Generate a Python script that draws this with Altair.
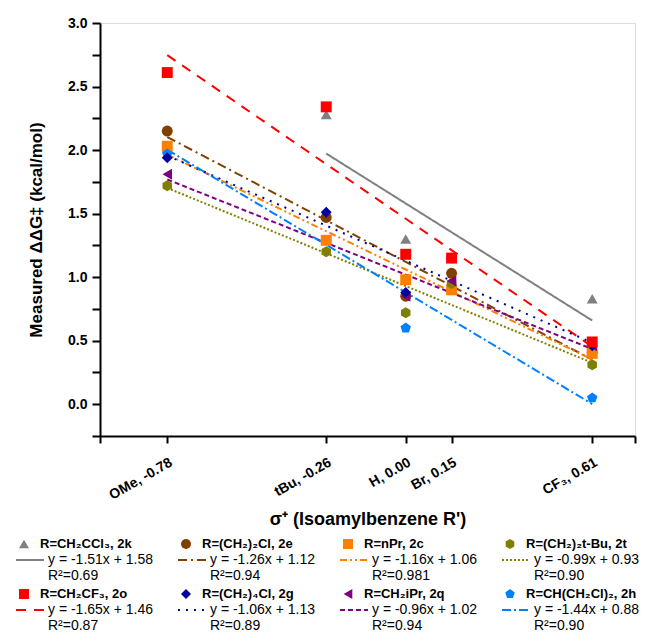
import altair as alt
import pandas as pd

# ---------------- data ----------------
sigma_values = [-0.78, -0.26, 0.00, 0.15, 0.61]
sigma_labels = ["OMe, -0.78", "tBu, -0.26", "H, 0.00", "Br, 0.15", "CF₃, 0.61"]

y_tick_values = [0.0, 0.5, 1.0, 1.5, 2.0, 2.5, 3.0]
y_tick_labels = ["0.0", "0.5", "1.0", "1.5", "2.0", "2.5", "3.0"]

series_ids = ["2k", "2e", "2c", "2t", "2o", "2g", "2q", "2h"]
series_names = ["R=CH₂CCl₃, 2k", "R=(CH₂)₂Cl, 2e", "R=nPr, 2c", "R=(CH₂)₂t-Bu, 2t",
                "R=CH₂CF₃, 2o", "R=(CH₂)₄Cl, 2g", "R=CH₂iPr, 2q", "R=CH(CH₂Cl)₂, 2h"]
slopes = [-1.51, -1.26, -1.16, -0.99, -1.65, -1.06, -0.96, -1.44]
intercepts = [1.58, 1.12, 1.06, 0.93, 1.46, 1.13, 1.02, 0.88]
r_squared = ["0.69", "0.94", "0.981", "0.90", "0.87", "0.89", "0.94", "0.90"]

# measured ddG at OMe, tBu, H, Br, CF3 (None = no point)
y_2k = [None, 2.28, 1.30, None, 0.83]
y_2e = [2.15, 1.47, 0.85, 1.03, 0.41]
y_2c = [2.03, 1.29, 0.98, 0.90, 0.40]
y_2t = [1.72, 1.20, 0.72, 0.95, 0.31]
y_2o = [2.61, 2.34, 1.18, 1.15, 0.49]
y_2g = [1.94, 1.51, 0.88, 1.15, 0.46]
y_2q = [1.81, None, 0.85, 0.97, 0.46]
y_2h = [1.97, None, 0.60, None, 0.05]

# ---------------- styles ----------------
colors = ["#808080", "#804000", "#FF8000", "#808000", "#FF0000", "#0000A0", "#800080", "#0080FF"]
hexagon = "M0,-1L0.866,-0.5L0.866,0.5L0,1L-0.866,0.5L-0.866,-0.5Z"
pentagon = "M0,-1L0.951,-0.309L0.588,0.809L-0.588,0.809L-0.951,-0.309Z"
shapes = ["triangle-up", "circle", "square", hexagon, "square", "diamond", "triangle-left", pentagon]
dashes = [[1, 0], [9, 4, 2, 4], [7, 3, 2, 3, 2, 3], [2, 2], [10, 8], [2, 6], [5, 3], [9, 3, 2, 3]]
draw_order = ["2k", "2e", "2c", "2t", "2h", "2q", "2g", "2o"]

FONT = "Liberation Sans"

measured = dict(zip(series_ids, [y_2k, y_2e, y_2c, y_2t, y_2o, y_2g, y_2q, y_2h]))
pt_rows, ln_rows = [], []
for sid, m, b in zip(series_ids, slopes, intercepts):
    xs = []
    for xv, yv in zip(sigma_values, measured[sid]):
        if yv is not None:
            pt_rows.append({"series": sid, "x": xv, "y": yv, "z": draw_order.index(sid)})
            xs.append(xv)
    for xv in (min(xs), max(xs)):
        ln_rows.append({"series": sid, "x": xv, "slope": m, "intercept": b})
points = pd.DataFrame(pt_rows)
lines = pd.DataFrame(ln_rows)

color_scale = alt.Scale(domain=series_ids, range=colors)
shape_scale = alt.Scale(domain=series_ids, range=shapes)
dash_scale = alt.Scale(domain=series_ids, range=dashes)

x_ticks = [-1.0] + sigma_values + [0.75]
x_label_expr = "".join(
    f"datum.value == {v} ? '{l}' : " for v, l in zip(sigma_values, sigma_labels)) + "''"
y_ticks = [-0.25 + 0.25 * i for i in range(14)]
y_label_expr = "".join(
    f"datum.value == {v} ? '{l}' : " for v, l in zip(y_tick_values, y_tick_labels)) + "''"

xscale = alt.Scale(domain=[-1.0, 0.75], nice=False, zero=False)
yscale = alt.Scale(domain=[-0.25, 3.0], nice=False, zero=False)

x_axis = alt.Axis(values=x_ticks, tickCount=50, labelExpr=x_label_expr, labelAngle=330,
                  labelAlign="right", labelBaseline="top", labelFont=FONT,
                  labelFontWeight="bold", labelFontSize=14,
                  labelColor="black", labelPadding=12, labelOverlap=False, labelFlush=False,
                  title="σ⁺ (Isoamylbenzene R')", titleFont=FONT, titleFontSize=18,
                  titleFontWeight="bold", titleColor="black", titlePadding=8,
                  domainColor="black", domainWidth=2, tickColor="black", tickWidth=2,
                  tickSize=7, grid=False)
y_axis = alt.Axis(values=y_ticks, tickCount=50, labelExpr=y_label_expr,
                  labelFont=FONT, labelFontWeight="bold", labelFontSize=14, labelColor="black",
                  labelPadding=5, labelOverlap=False, labelFlush=False,
                  title="Measured ΔΔG‡ (kcal/mol)", titleFont=FONT, titleFontSize=17,
                  titleFontWeight="bold", titleColor="black", titlePadding=22,
                  domainColor="black", domainWidth=2, tickColor="black", tickWidth=2,
                  tickSize=8, grid=False)

line_layer = alt.Chart(lines).transform_calculate(
    yfit="datum.slope * datum.x + datum.intercept"
).mark_line(strokeWidth=2).encode(
    x=alt.X("x:Q", scale=xscale, axis=x_axis),
    y=alt.Y("yfit:Q", scale=yscale, axis=y_axis),
    color=alt.Color("series:N", scale=color_scale, legend=None),
    strokeDash=alt.StrokeDash("series:N", scale=dash_scale, legend=None),
    detail="series:N",
)

point_layer = alt.Chart(points).mark_point(filled=True, opacity=1, size=120).encode(
    x=alt.X("x:Q", scale=xscale),
    y=alt.Y("y:Q", scale=yscale),
    color=alt.Color("series:N", scale=color_scale, legend=None),
    shape=alt.Shape("series:N", scale=shape_scale, legend=None),
    order=alt.Order("z:Q"),
)

# ---------------- custom legend (pixel layout under the plot) ----------------
leg_rows = []
for i, sid in enumerate(series_ids):
    col, row = i % 4, i // 4
    sx = -76 + col * 162
    base = 521 + row * 50
    leg_rows.append({
        "series": sid, "name": series_names[i],
        "eq": f"y = {slopes[i]:.2f}x + {intercepts[i]:.2f}",
        "r2": f"R²={r_squared[i]}",
        "sx": sx, "tx": sx + 16, "lx0": sx - 8, "lx1": sx + 20, "ex": sx + 24,
        "sy": base, "ey": base + 16, "ry": base + 32,
    })
legend = pd.DataFrame(leg_rows)


def px(field):
    return alt.X(f"{field}:Q", scale=None, axis=None)


def py(field):
    return alt.Y(f"{field}:Q", scale=None, axis=None)


leg_sym = alt.Chart(legend).mark_point(filled=True, opacity=1, size=100).encode(
    x=px("sx"), y=py("sy"),
    color=alt.Color("series:N", scale=color_scale, legend=None),
    shape=alt.Shape("series:N", scale=shape_scale, legend=None),
)
leg_name = alt.Chart(legend).mark_text(align="left", baseline="middle", font=FONT,
                                        fontSize=13, fontWeight="bold", color="black").encode(
    x=px("tx"), y=py("sy"), text="name:N")
leg_line = alt.Chart(legend).mark_rule(strokeWidth=2).encode(
    x=px("lx0"), x2="lx1:Q", y=py("ey"),
    color=alt.Color("series:N", scale=color_scale, legend=None),
    strokeDash=alt.StrokeDash("series:N", scale=dash_scale, legend=None),
)
leg_eq = alt.Chart(legend).mark_text(align="left", baseline="middle", font=FONT,
                                      fontSize=14, color="black").encode(
    x=px("ex"), y=py("ey"), text="eq:N")
leg_r2 = alt.Chart(legend).mark_text(align="left", baseline="middle", font=FONT,
                                      fontSize=14, color="black").encode(
    x=px("ex"), y=py("ry"), text="r2:N")

chart = alt.layer(line_layer, point_layer, leg_sym, leg_name, leg_line, leg_eq, leg_r2).properties(
    width=535, height=413,
    autosize=alt.AutoSizeParams(type="none"),
    padding={"left": 92, "top": 15, "right": 8, "bottom": 199},
).configure_view(stroke=None).configure(background="white")

chart.save("out.html", embed_options={"renderer": "svg", "actions": False})
